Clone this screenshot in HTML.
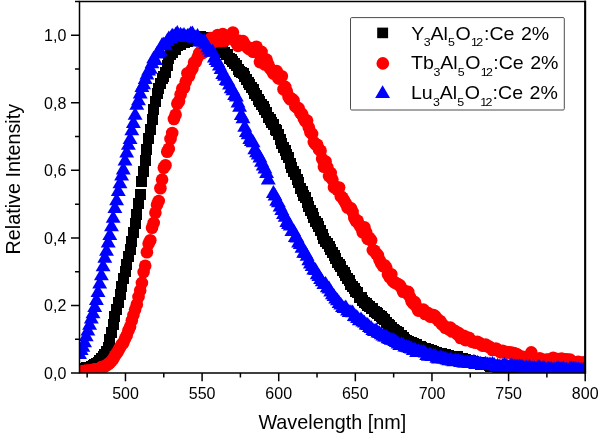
<!DOCTYPE html>
<html lang="en"><head><meta charset="utf-8"><title>Emission spectra</title>
<style>html,body{margin:0;padding:0;background:#fff}svg{display:block}</style></head>
<body>
<svg width="600" height="435" viewBox="0 0 600 435" font-family="'Liberation Sans', Arial, sans-serif" fill="#000">
<rect width="600" height="435" fill="#fff"/>
<defs>
<clipPath id="cp"><rect x="80.0" y="1.5" width="505.20000000000005" height="371.2"/></clipPath>
<rect id="sq" x="-5.5" y="-5.5" width="11" height="11"/>
<circle id="ci" r="6.3"/>
<path id="tr" d="M0-8.5L7.45 4.3H-7.45Z"/>
</defs>
<g clip-path="url(#cp)">
<g fill="#000" shape-rendering="crispEdges">
<use href="#sq" x="79.5" y="368.5"/>
<use href="#sq" x="81.2" y="368.9"/>
<use href="#sq" x="82.9" y="368.4"/>
<use href="#sq" x="84.6" y="368.3"/>
<use href="#sq" x="86.2" y="367.9"/>
<use href="#sq" x="87.9" y="367.4"/>
<use href="#sq" x="89.6" y="367.2"/>
<use href="#sq" x="91.3" y="366.4"/>
<use href="#sq" x="93" y="365.8"/>
<use href="#sq" x="94.7" y="364.4"/>
<use href="#sq" x="96.4" y="363.5"/>
<use href="#sq" x="98" y="362.2"/>
<use href="#sq" x="99.7" y="360.5"/>
<use href="#sq" x="101.4" y="358.8"/>
<use href="#sq" x="103.1" y="356.8"/>
<use href="#sq" x="104.8" y="354.4"/>
<use href="#sq" x="106.5" y="351.3"/>
<use href="#sq" x="108.2" y="347.6"/>
<use href="#sq" x="109.8" y="339.8"/>
<use href="#sq" x="111.5" y="332.2"/>
<use href="#sq" x="113.2" y="324.5"/>
<use href="#sq" x="114.9" y="316.7"/>
<use href="#sq" x="116.6" y="309.5"/>
<use href="#sq" x="118.3" y="302.1"/>
<use href="#sq" x="120" y="294.5"/>
<use href="#sq" x="121.6" y="286.7"/>
<use href="#sq" x="123.3" y="278.7"/>
<use href="#sq" x="125" y="271.8"/>
<use href="#sq" x="126.7" y="264.3"/>
<use href="#sq" x="128.4" y="256.6"/>
<use href="#sq" x="130.1" y="249.9"/>
<use href="#sq" x="131.8" y="241.8"/>
<use href="#sq" x="133.4" y="232.8"/>
<use href="#sq" x="135.1" y="223.7"/>
<use href="#sq" x="136.8" y="214.2"/>
<use href="#sq" x="138.5" y="203.8"/>
<use href="#sq" x="140.2" y="194.3"/>
<use href="#sq" x="141.9" y="181"/>
<use href="#sq" x="143.6" y="171"/>
<use href="#sq" x="145.2" y="160.9"/>
<use href="#sq" x="146.9" y="149.2"/>
<use href="#sq" x="148.6" y="138.8"/>
<use href="#sq" x="150.3" y="129.5"/>
<use href="#sq" x="152" y="119.8"/>
<use href="#sq" x="153.7" y="109.5"/>
<use href="#sq" x="155.4" y="101.6"/>
<use href="#sq" x="157" y="93.8"/>
<use href="#sq" x="158.7" y="88.6"/>
<use href="#sq" x="160.4" y="83.9"/>
<use href="#sq" x="162.1" y="78.9"/>
<use href="#sq" x="163.8" y="76.1"/>
<use href="#sq" x="165.5" y="72.5"/>
<use href="#sq" x="167.2" y="65.6"/>
<use href="#sq" x="168.8" y="58"/>
<use href="#sq" x="170.5" y="54.2"/>
<use href="#sq" x="172.2" y="52"/>
<use href="#sq" x="173.9" y="49.2"/>
<use href="#sq" x="175.6" y="49.2"/>
<use href="#sq" x="177.3" y="45.4"/>
<use href="#sq" x="179" y="44"/>
<use href="#sq" x="180.6" y="44.5"/>
<use href="#sq" x="182.3" y="42.1"/>
<use href="#sq" x="184" y="42.1"/>
<use href="#sq" x="185.7" y="39.9"/>
<use href="#sq" x="187.4" y="41.4"/>
<use href="#sq" x="189.1" y="40"/>
<use href="#sq" x="190.8" y="38.2"/>
<use href="#sq" x="192.4" y="37.4"/>
<use href="#sq" x="194.1" y="39.7"/>
<use href="#sq" x="195.8" y="38.2"/>
<use href="#sq" x="197.5" y="37.2"/>
<use href="#sq" x="199.2" y="37.9"/>
<use href="#sq" x="200.9" y="36"/>
<use href="#sq" x="202.6" y="38.5"/>
<use href="#sq" x="204.2" y="37.6"/>
<use href="#sq" x="205.9" y="39.4"/>
<use href="#sq" x="207.6" y="37.9"/>
<use href="#sq" x="209.3" y="39.8"/>
<use href="#sq" x="211" y="40.9"/>
<use href="#sq" x="212.7" y="42.9"/>
<use href="#sq" x="214.4" y="41.2"/>
<use href="#sq" x="216" y="43.1"/>
<use href="#sq" x="217.7" y="44.3"/>
<use href="#sq" x="219.4" y="45.4"/>
<use href="#sq" x="221.1" y="47.6"/>
<use href="#sq" x="222.8" y="50.1"/>
<use href="#sq" x="224.5" y="52.1"/>
<use href="#sq" x="226.2" y="54"/>
<use href="#sq" x="227.8" y="54.1"/>
<use href="#sq" x="229.5" y="58.3"/>
<use href="#sq" x="231.2" y="59.7"/>
<use href="#sq" x="232.9" y="61.6"/>
<use href="#sq" x="234.6" y="63.3"/>
<use href="#sq" x="236.3" y="65.3"/>
<use href="#sq" x="238" y="69"/>
<use href="#sq" x="239.6" y="71.7"/>
<use href="#sq" x="241.3" y="72.6"/>
<use href="#sq" x="243" y="73.9"/>
<use href="#sq" x="244.7" y="76.6"/>
<use href="#sq" x="246.4" y="79.5"/>
<use href="#sq" x="248.1" y="82.4"/>
<use href="#sq" x="249.8" y="84.4"/>
<use href="#sq" x="251.4" y="87.6"/>
<use href="#sq" x="253.1" y="89.5"/>
<use href="#sq" x="254.8" y="93.7"/>
<use href="#sq" x="256.5" y="95.9"/>
<use href="#sq" x="258.2" y="99.1"/>
<use href="#sq" x="259.9" y="101.6"/>
<use href="#sq" x="261.6" y="104.8"/>
<use href="#sq" x="263.2" y="106.4"/>
<use href="#sq" x="264.9" y="109.5"/>
<use href="#sq" x="266.6" y="112.4"/>
<use href="#sq" x="268.3" y="117.9"/>
<use href="#sq" x="270" y="119.6"/>
<use href="#sq" x="271.7" y="122.7"/>
<use href="#sq" x="273.4" y="124.9"/>
<use href="#sq" x="275" y="129.8"/>
<use href="#sq" x="276.7" y="130.8"/>
<use href="#sq" x="278.4" y="134.2"/>
<use href="#sq" x="280.1" y="139.5"/>
<use href="#sq" x="281.8" y="143.1"/>
<use href="#sq" x="283.5" y="147"/>
<use href="#sq" x="285.2" y="150.6"/>
<use href="#sq" x="286.8" y="154.5"/>
<use href="#sq" x="288.5" y="157.9"/>
<use href="#sq" x="290.2" y="163.8"/>
<use href="#sq" x="291.9" y="167.2"/>
<use href="#sq" x="293.6" y="171.7"/>
<use href="#sq" x="295.3" y="174.5"/>
<use href="#sq" x="297" y="179.2"/>
<use href="#sq" x="298.6" y="182.6"/>
<use href="#sq" x="300.3" y="188.2"/>
<use href="#sq" x="302" y="191.4"/>
<use href="#sq" x="303.7" y="195.6"/>
<use href="#sq" x="305.4" y="197.8"/>
<use href="#sq" x="307.1" y="202"/>
<use href="#sq" x="308.8" y="206.3"/>
<use href="#sq" x="310.4" y="210.1"/>
<use href="#sq" x="312.1" y="213"/>
<use href="#sq" x="313.8" y="217.4"/>
<use href="#sq" x="315.5" y="221.1"/>
<use href="#sq" x="317.2" y="223.6"/>
<use href="#sq" x="318.9" y="226.2"/>
<use href="#sq" x="320.6" y="230.9"/>
<use href="#sq" x="322.2" y="234.5"/>
<use href="#sq" x="323.9" y="238.1"/>
<use href="#sq" x="325.6" y="241.3"/>
<use href="#sq" x="327.3" y="243.3"/>
<use href="#sq" x="329" y="246.1"/>
<use href="#sq" x="330.7" y="249.6"/>
<use href="#sq" x="332.4" y="252.3"/>
<use href="#sq" x="334" y="255.4"/>
<use href="#sq" x="335.7" y="258.2"/>
<use href="#sq" x="337.4" y="262.1"/>
<use href="#sq" x="339.1" y="264.3"/>
<use href="#sq" x="340.8" y="266.7"/>
<use href="#sq" x="342.5" y="270.1"/>
<use href="#sq" x="344.1" y="272.7"/>
<use href="#sq" x="345.8" y="275.8"/>
<use href="#sq" x="347.5" y="278.4"/>
<use href="#sq" x="349.2" y="280.5"/>
<use href="#sq" x="350.9" y="284.1"/>
<use href="#sq" x="352.6" y="286.6"/>
<use href="#sq" x="354.3" y="288.6"/>
<use href="#sq" x="355.9" y="291.1"/>
<use href="#sq" x="357.6" y="292.8"/>
<use href="#sq" x="359.3" y="297.1"/>
<use href="#sq" x="361" y="297.7"/>
<use href="#sq" x="362.7" y="300.5"/>
<use href="#sq" x="364.4" y="302.1"/>
<use href="#sq" x="366.1" y="303.6"/>
<use href="#sq" x="367.7" y="305.1"/>
<use href="#sq" x="369.4" y="306.6"/>
<use href="#sq" x="371.1" y="308.3"/>
<use href="#sq" x="372.8" y="308.7"/>
<use href="#sq" x="374.5" y="311"/>
<use href="#sq" x="376.2" y="312.3"/>
<use href="#sq" x="377.9" y="313.3"/>
<use href="#sq" x="379.5" y="315.7"/>
<use href="#sq" x="381.2" y="316"/>
<use href="#sq" x="382.9" y="318.3"/>
<use href="#sq" x="384.6" y="319.5"/>
<use href="#sq" x="386.3" y="322.4"/>
<use href="#sq" x="388" y="324.3"/>
<use href="#sq" x="389.7" y="325.7"/>
<use href="#sq" x="391.3" y="327"/>
<use href="#sq" x="393" y="329.2"/>
<use href="#sq" x="394.7" y="330.1"/>
<use href="#sq" x="396.4" y="331.8"/>
<use href="#sq" x="398.1" y="332.3"/>
<use href="#sq" x="399.8" y="335"/>
<use href="#sq" x="401.5" y="335.4"/>
<use href="#sq" x="403.1" y="337.7"/>
<use href="#sq" x="404.8" y="339.2"/>
<use href="#sq" x="406.5" y="340.2"/>
<use href="#sq" x="408.2" y="341.6"/>
<use href="#sq" x="409.9" y="342"/>
<use href="#sq" x="411.6" y="342.5"/>
<use href="#sq" x="413.3" y="343.8"/>
<use href="#sq" x="414.9" y="344.4"/>
<use href="#sq" x="416.6" y="344.7"/>
<use href="#sq" x="418.3" y="346.1"/>
<use href="#sq" x="420" y="346.9"/>
<use href="#sq" x="421.7" y="347.8"/>
<use href="#sq" x="423.4" y="349.2"/>
<use href="#sq" x="425.1" y="348.5"/>
<use href="#sq" x="426.7" y="350.5"/>
<use href="#sq" x="428.4" y="349.8"/>
<use href="#sq" x="430.1" y="350.7"/>
<use href="#sq" x="431.8" y="350.6"/>
<use href="#sq" x="433.5" y="351.7"/>
<use href="#sq" x="435.2" y="352.6"/>
<use href="#sq" x="436.9" y="352.4"/>
<use href="#sq" x="438.5" y="353.3"/>
<use href="#sq" x="440.2" y="353.5"/>
<use href="#sq" x="441.9" y="353.8"/>
<use href="#sq" x="443.6" y="354.3"/>
<use href="#sq" x="445.3" y="354.7"/>
<use href="#sq" x="447" y="355.4"/>
<use href="#sq" x="448.7" y="355.5"/>
<use href="#sq" x="450.3" y="356.7"/>
<use href="#sq" x="452" y="356.2"/>
<use href="#sq" x="453.7" y="357.2"/>
<use href="#sq" x="455.4" y="356.4"/>
<use href="#sq" x="457.1" y="356.7"/>
<use href="#sq" x="458.8" y="358.7"/>
<use href="#sq" x="460.5" y="358.1"/>
<use href="#sq" x="462.1" y="358.6"/>
<use href="#sq" x="463.8" y="359.5"/>
<use href="#sq" x="465.5" y="359"/>
<use href="#sq" x="467.2" y="360"/>
<use href="#sq" x="468.9" y="361.1"/>
<use href="#sq" x="470.6" y="360.7"/>
<use href="#sq" x="472.3" y="361.1"/>
<use href="#sq" x="473.9" y="361.5"/>
<use href="#sq" x="475.6" y="362.7"/>
<use href="#sq" x="477.3" y="362.2"/>
<use href="#sq" x="479" y="362.6"/>
<use href="#sq" x="480.7" y="364"/>
<use href="#sq" x="482.4" y="364.2"/>
<use href="#sq" x="484.1" y="364.2"/>
<use href="#sq" x="485.7" y="364.9"/>
<use href="#sq" x="487.4" y="364.1"/>
<use href="#sq" x="489.1" y="365.2"/>
<use href="#sq" x="490.8" y="366.2"/>
<use href="#sq" x="492.5" y="366.5"/>
<use href="#sq" x="494.2" y="366.4"/>
<use href="#sq" x="495.9" y="365.8"/>
<use href="#sq" x="497.5" y="367.2"/>
<use href="#sq" x="499.2" y="367.3"/>
<use href="#sq" x="500.9" y="367.4"/>
<use href="#sq" x="502.6" y="367.9"/>
<use href="#sq" x="504.3" y="367.2"/>
<use href="#sq" x="506" y="368.6"/>
<use href="#sq" x="507.7" y="368.1"/>
<use href="#sq" x="509.3" y="368.6"/>
<use href="#sq" x="511" y="368.5"/>
<use href="#sq" x="512.7" y="369.5"/>
<use href="#sq" x="514.4" y="368.2"/>
<use href="#sq" x="516.1" y="369.2"/>
<use href="#sq" x="517.8" y="369.3"/>
<use href="#sq" x="519.5" y="369.9"/>
<use href="#sq" x="521.1" y="369.9"/>
<use href="#sq" x="522.8" y="369.3"/>
<use href="#sq" x="524.5" y="369.2"/>
<use href="#sq" x="526.2" y="369.4"/>
<use href="#sq" x="527.9" y="369.3"/>
<use href="#sq" x="529.6" y="369.6"/>
<use href="#sq" x="531.3" y="370"/>
<use href="#sq" x="532.9" y="369.7"/>
<use href="#sq" x="534.6" y="369.9"/>
<use href="#sq" x="536.3" y="370.3"/>
<use href="#sq" x="538" y="369.9"/>
<use href="#sq" x="539.7" y="369.7"/>
<use href="#sq" x="541.4" y="370.3"/>
<use href="#sq" x="543.1" y="370.7"/>
<use href="#sq" x="544.7" y="370.2"/>
<use href="#sq" x="546.4" y="369.7"/>
<use href="#sq" x="548.1" y="370.8"/>
<use href="#sq" x="549.8" y="370.8"/>
<use href="#sq" x="551.5" y="370.9"/>
<use href="#sq" x="553.2" y="370.2"/>
<use href="#sq" x="554.9" y="371.8"/>
<use href="#sq" x="556.5" y="370.8"/>
<use href="#sq" x="558.2" y="370.4"/>
<use href="#sq" x="559.9" y="371.5"/>
<use href="#sq" x="561.6" y="370.4"/>
<use href="#sq" x="563.3" y="370.9"/>
<use href="#sq" x="565" y="371.5"/>
<use href="#sq" x="566.7" y="371.2"/>
<use href="#sq" x="568.3" y="372.1"/>
<use href="#sq" x="570" y="371.6"/>
<use href="#sq" x="571.7" y="370.5"/>
<use href="#sq" x="573.4" y="371.9"/>
<use href="#sq" x="575.1" y="370.5"/>
<use href="#sq" x="576.8" y="371.5"/>
<use href="#sq" x="578.5" y="371"/>
<use href="#sq" x="580.1" y="371.5"/>
<use href="#sq" x="581.8" y="372.6"/>
<use href="#sq" x="583.5" y="371.9"/>
<use href="#sq" x="585.2" y="371.6"/>
</g>
<g fill="#f00">
<use href="#ci" x="79.5" y="371.5"/>
<use href="#ci" x="81.2" y="371.6"/>
<use href="#ci" x="82.9" y="371.3"/>
<use href="#ci" x="84.6" y="371"/>
<use href="#ci" x="86.2" y="370.6"/>
<use href="#ci" x="87.9" y="370.7"/>
<use href="#ci" x="89.6" y="370.6"/>
<use href="#ci" x="91.3" y="370.4"/>
<use href="#ci" x="93" y="369.7"/>
<use href="#ci" x="94.7" y="369.2"/>
<use href="#ci" x="96.4" y="369.2"/>
<use href="#ci" x="98" y="369.1"/>
<use href="#ci" x="99.7" y="368.5"/>
<use href="#ci" x="101.4" y="367.1"/>
<use href="#ci" x="103.1" y="366.8"/>
<use href="#ci" x="104.8" y="366.6"/>
<use href="#ci" x="106.5" y="365.1"/>
<use href="#ci" x="108.2" y="364.4"/>
<use href="#ci" x="109.8" y="362.8"/>
<use href="#ci" x="111.5" y="361.1"/>
<use href="#ci" x="113.2" y="359"/>
<use href="#ci" x="114.9" y="355.7"/>
<use href="#ci" x="116.6" y="353.2"/>
<use href="#ci" x="118.3" y="350.8"/>
<use href="#ci" x="120" y="347.5"/>
<use href="#ci" x="121.6" y="344.5"/>
<use href="#ci" x="123.3" y="343"/>
<use href="#ci" x="125" y="338.7"/>
<use href="#ci" x="126.7" y="335.4"/>
<use href="#ci" x="128.4" y="330.5"/>
<use href="#ci" x="130.1" y="326.8"/>
<use href="#ci" x="131.8" y="320.5"/>
<use href="#ci" x="133.4" y="315.1"/>
<use href="#ci" x="135.1" y="309.6"/>
<use href="#ci" x="136.8" y="304.5"/>
<use href="#ci" x="138.5" y="296.9"/>
<use href="#ci" x="140.2" y="290.4"/>
<use href="#ci" x="141.9" y="282.9"/>
<use href="#ci" x="143.6" y="272.1"/>
<use href="#ci" x="145.2" y="265.7"/>
<use href="#ci" x="146.9" y="252.2"/>
<use href="#ci" x="148.6" y="243.7"/>
<use href="#ci" x="150.3" y="240.3"/>
<use href="#ci" x="152" y="227.7"/>
<use href="#ci" x="153.7" y="223"/>
<use href="#ci" x="155.4" y="212.8"/>
<use href="#ci" x="157" y="204.8"/>
<use href="#ci" x="158.7" y="201"/>
<use href="#ci" x="160.4" y="188.3"/>
<use href="#ci" x="162.1" y="179.6"/>
<use href="#ci" x="163.8" y="167.8"/>
<use href="#ci" x="165.5" y="165.2"/>
<use href="#ci" x="167.2" y="151.7"/>
<use href="#ci" x="168.8" y="148.8"/>
<use href="#ci" x="170.5" y="138.9"/>
<use href="#ci" x="172.2" y="133"/>
<use href="#ci" x="173.9" y="119"/>
<use href="#ci" x="175.6" y="114.7"/>
<use href="#ci" x="177.3" y="103.8"/>
<use href="#ci" x="179" y="101.3"/>
<use href="#ci" x="180.6" y="94.5"/>
<use href="#ci" x="182.3" y="88.5"/>
<use href="#ci" x="184" y="87.9"/>
<use href="#ci" x="185.7" y="81.7"/>
<use href="#ci" x="187.4" y="73.3"/>
<use href="#ci" x="189.1" y="76.1"/>
<use href="#ci" x="190.8" y="71.1"/>
<use href="#ci" x="192.4" y="68.5"/>
<use href="#ci" x="194.1" y="62.5"/>
<use href="#ci" x="195.8" y="61.9"/>
<use href="#ci" x="197.5" y="57.6"/>
<use href="#ci" x="199.2" y="53.3"/>
<use href="#ci" x="200.9" y="51.5"/>
<use href="#ci" x="202.6" y="53"/>
<use href="#ci" x="204.2" y="44.8"/>
<use href="#ci" x="205.9" y="51.1"/>
<use href="#ci" x="207.6" y="49.3"/>
<use href="#ci" x="209.3" y="48.2"/>
<use href="#ci" x="211" y="38.1"/>
<use href="#ci" x="212.7" y="40.8"/>
<use href="#ci" x="214.4" y="41.3"/>
<use href="#ci" x="216" y="41.2"/>
<use href="#ci" x="217.7" y="35"/>
<use href="#ci" x="219.4" y="40.2"/>
<use href="#ci" x="221.1" y="41"/>
<use href="#ci" x="222.8" y="34"/>
<use href="#ci" x="224.5" y="40.8"/>
<use href="#ci" x="226.2" y="37.7"/>
<use href="#ci" x="227.8" y="36.6"/>
<use href="#ci" x="229.5" y="38.4"/>
<use href="#ci" x="231.2" y="37.3"/>
<use href="#ci" x="232.9" y="32.5"/>
<use href="#ci" x="234.6" y="39.8"/>
<use href="#ci" x="236.3" y="43.1"/>
<use href="#ci" x="238" y="45.9"/>
<use href="#ci" x="239.6" y="40.7"/>
<use href="#ci" x="241.3" y="42.3"/>
<use href="#ci" x="243" y="41.1"/>
<use href="#ci" x="244.7" y="44.8"/>
<use href="#ci" x="246.4" y="46.1"/>
<use href="#ci" x="248.1" y="48.4"/>
<use href="#ci" x="249.8" y="49.2"/>
<use href="#ci" x="251.4" y="48.3"/>
<use href="#ci" x="253.1" y="51.8"/>
<use href="#ci" x="254.8" y="51.7"/>
<use href="#ci" x="256.5" y="46.8"/>
<use href="#ci" x="258.2" y="53.4"/>
<use href="#ci" x="259.9" y="62.1"/>
<use href="#ci" x="261.6" y="51.9"/>
<use href="#ci" x="263.2" y="58.4"/>
<use href="#ci" x="264.9" y="64.5"/>
<use href="#ci" x="266.6" y="59.6"/>
<use href="#ci" x="268.3" y="64.4"/>
<use href="#ci" x="270" y="68.4"/>
<use href="#ci" x="271.7" y="70.3"/>
<use href="#ci" x="273.4" y="73.6"/>
<use href="#ci" x="275" y="72.2"/>
<use href="#ci" x="276.7" y="71.1"/>
<use href="#ci" x="278.4" y="78.4"/>
<use href="#ci" x="280.1" y="78.5"/>
<use href="#ci" x="281.8" y="76.3"/>
<use href="#ci" x="283.5" y="89.2"/>
<use href="#ci" x="285.2" y="86.9"/>
<use href="#ci" x="286.8" y="91.5"/>
<use href="#ci" x="288.5" y="96.7"/>
<use href="#ci" x="290.2" y="99.3"/>
<use href="#ci" x="291.9" y="98.9"/>
<use href="#ci" x="293.6" y="100.4"/>
<use href="#ci" x="295.3" y="106.4"/>
<use href="#ci" x="297" y="107.5"/>
<use href="#ci" x="298.6" y="108.3"/>
<use href="#ci" x="300.3" y="112.7"/>
<use href="#ci" x="302" y="114"/>
<use href="#ci" x="303.7" y="118.3"/>
<use href="#ci" x="305.4" y="121.4"/>
<use href="#ci" x="307.1" y="120.6"/>
<use href="#ci" x="308.8" y="127.4"/>
<use href="#ci" x="310.4" y="132.2"/>
<use href="#ci" x="312.1" y="133.9"/>
<use href="#ci" x="313.8" y="142.1"/>
<use href="#ci" x="315.5" y="144.2"/>
<use href="#ci" x="317.2" y="144.8"/>
<use href="#ci" x="318.9" y="149.3"/>
<use href="#ci" x="320.6" y="150.8"/>
<use href="#ci" x="322.2" y="159"/>
<use href="#ci" x="323.9" y="166.8"/>
<use href="#ci" x="325.6" y="161.5"/>
<use href="#ci" x="327.3" y="167.2"/>
<use href="#ci" x="329" y="176.1"/>
<use href="#ci" x="330.7" y="173"/>
<use href="#ci" x="332.4" y="179.6"/>
<use href="#ci" x="334" y="187.3"/>
<use href="#ci" x="335.7" y="186.7"/>
<use href="#ci" x="337.4" y="189.8"/>
<use href="#ci" x="339.1" y="187.5"/>
<use href="#ci" x="340.8" y="196.2"/>
<use href="#ci" x="342.5" y="197.7"/>
<use href="#ci" x="344.1" y="200.5"/>
<use href="#ci" x="345.8" y="203.5"/>
<use href="#ci" x="347.5" y="207.5"/>
<use href="#ci" x="349.2" y="207.6"/>
<use href="#ci" x="350.9" y="208.3"/>
<use href="#ci" x="352.6" y="211.9"/>
<use href="#ci" x="354.3" y="218"/>
<use href="#ci" x="355.9" y="221"/>
<use href="#ci" x="357.6" y="220.7"/>
<use href="#ci" x="359.3" y="225.1"/>
<use href="#ci" x="361" y="227.5"/>
<use href="#ci" x="362.7" y="232.3"/>
<use href="#ci" x="364.4" y="227.3"/>
<use href="#ci" x="366.1" y="232.1"/>
<use href="#ci" x="367.7" y="238.9"/>
<use href="#ci" x="369.4" y="237.9"/>
<use href="#ci" x="371.1" y="240.2"/>
<use href="#ci" x="372.8" y="250.1"/>
<use href="#ci" x="374.5" y="250.7"/>
<use href="#ci" x="376.2" y="253.8"/>
<use href="#ci" x="377.9" y="255.2"/>
<use href="#ci" x="379.5" y="260"/>
<use href="#ci" x="381.2" y="263.4"/>
<use href="#ci" x="382.9" y="266.1"/>
<use href="#ci" x="384.6" y="265.2"/>
<use href="#ci" x="386.3" y="267.6"/>
<use href="#ci" x="388" y="274.3"/>
<use href="#ci" x="389.7" y="277.2"/>
<use href="#ci" x="391.3" y="274.2"/>
<use href="#ci" x="393" y="281.3"/>
<use href="#ci" x="394.7" y="282.5"/>
<use href="#ci" x="396.4" y="283.3"/>
<use href="#ci" x="398.1" y="284.3"/>
<use href="#ci" x="399.8" y="285.2"/>
<use href="#ci" x="401.5" y="288.1"/>
<use href="#ci" x="403.1" y="291.8"/>
<use href="#ci" x="404.8" y="291.1"/>
<use href="#ci" x="406.5" y="293"/>
<use href="#ci" x="408.2" y="291.9"/>
<use href="#ci" x="409.9" y="296.9"/>
<use href="#ci" x="411.6" y="301.3"/>
<use href="#ci" x="413.3" y="303.5"/>
<use href="#ci" x="414.9" y="302.1"/>
<use href="#ci" x="416.6" y="307"/>
<use href="#ci" x="418.3" y="310.6"/>
<use href="#ci" x="420" y="310"/>
<use href="#ci" x="421.7" y="310.3"/>
<use href="#ci" x="423.4" y="309.6"/>
<use href="#ci" x="425.1" y="314"/>
<use href="#ci" x="426.7" y="312.5"/>
<use href="#ci" x="428.4" y="313.3"/>
<use href="#ci" x="430.1" y="316.5"/>
<use href="#ci" x="431.8" y="316.8"/>
<use href="#ci" x="433.5" y="315"/>
<use href="#ci" x="435.2" y="316.2"/>
<use href="#ci" x="436.9" y="318.7"/>
<use href="#ci" x="438.5" y="320.8"/>
<use href="#ci" x="440.2" y="321"/>
<use href="#ci" x="441.9" y="324.2"/>
<use href="#ci" x="443.6" y="325.4"/>
<use href="#ci" x="445.3" y="327.8"/>
<use href="#ci" x="447" y="327.9"/>
<use href="#ci" x="448.7" y="329.2"/>
<use href="#ci" x="450.3" y="327.6"/>
<use href="#ci" x="452" y="331.5"/>
<use href="#ci" x="453.7" y="330.4"/>
<use href="#ci" x="455.4" y="331.3"/>
<use href="#ci" x="457.1" y="334.1"/>
<use href="#ci" x="458.8" y="333.1"/>
<use href="#ci" x="460.5" y="338"/>
<use href="#ci" x="462.1" y="336.1"/>
<use href="#ci" x="463.8" y="335.8"/>
<use href="#ci" x="465.5" y="340.1"/>
<use href="#ci" x="467.2" y="339.9"/>
<use href="#ci" x="468.9" y="337.7"/>
<use href="#ci" x="470.6" y="340.1"/>
<use href="#ci" x="472.3" y="341.9"/>
<use href="#ci" x="473.9" y="341.7"/>
<use href="#ci" x="475.6" y="342.7"/>
<use href="#ci" x="477.3" y="341.8"/>
<use href="#ci" x="479" y="342.8"/>
<use href="#ci" x="480.7" y="344.4"/>
<use href="#ci" x="482.4" y="345.6"/>
<use href="#ci" x="484.1" y="345.5"/>
<use href="#ci" x="485.7" y="344.5"/>
<use href="#ci" x="487.4" y="346.3"/>
<use href="#ci" x="489.1" y="346.5"/>
<use href="#ci" x="490.8" y="348.1"/>
<use href="#ci" x="492.5" y="350"/>
<use href="#ci" x="494.2" y="349.7"/>
<use href="#ci" x="495.9" y="348.5"/>
<use href="#ci" x="497.5" y="349.6"/>
<use href="#ci" x="499.2" y="351.2"/>
<use href="#ci" x="500.9" y="352.4"/>
<use href="#ci" x="502.6" y="350.7"/>
<use href="#ci" x="504.3" y="351.7"/>
<use href="#ci" x="506" y="352.1"/>
<use href="#ci" x="507.7" y="352.5"/>
<use href="#ci" x="509.3" y="352.3"/>
<use href="#ci" x="511" y="352.9"/>
<use href="#ci" x="512.7" y="352.8"/>
<use href="#ci" x="514.4" y="353.5"/>
<use href="#ci" x="516.1" y="353.7"/>
<use href="#ci" x="517.8" y="354.9"/>
<use href="#ci" x="519.5" y="356.8"/>
<use href="#ci" x="521.1" y="356.9"/>
<use href="#ci" x="522.8" y="356.7"/>
<use href="#ci" x="524.5" y="358"/>
<use href="#ci" x="526.2" y="357.5"/>
<use href="#ci" x="527.9" y="357.2"/>
<use href="#ci" x="529.6" y="359.8"/>
<use href="#ci" x="531.3" y="352.4"/>
<use href="#ci" x="532.9" y="358.2"/>
<use href="#ci" x="534.6" y="359.8"/>
<use href="#ci" x="536.3" y="359.2"/>
<use href="#ci" x="538" y="361.6"/>
<use href="#ci" x="539.7" y="358.2"/>
<use href="#ci" x="541.4" y="359.3"/>
<use href="#ci" x="543.1" y="360.2"/>
<use href="#ci" x="544.7" y="360.3"/>
<use href="#ci" x="546.4" y="359.6"/>
<use href="#ci" x="548.1" y="359.8"/>
<use href="#ci" x="549.8" y="359.7"/>
<use href="#ci" x="551.5" y="360.5"/>
<use href="#ci" x="553.2" y="357.8"/>
<use href="#ci" x="554.9" y="359.2"/>
<use href="#ci" x="556.5" y="359.1"/>
<use href="#ci" x="558.2" y="359"/>
<use href="#ci" x="559.9" y="361.3"/>
<use href="#ci" x="561.6" y="358.6"/>
<use href="#ci" x="563.3" y="359.5"/>
<use href="#ci" x="565" y="359.5"/>
<use href="#ci" x="566.7" y="359.3"/>
<use href="#ci" x="568.3" y="361"/>
<use href="#ci" x="570" y="359.5"/>
<use href="#ci" x="571.7" y="361.8"/>
<use href="#ci" x="573.4" y="362.6"/>
<use href="#ci" x="575.1" y="362.9"/>
<use href="#ci" x="576.8" y="362.1"/>
<use href="#ci" x="578.5" y="361.8"/>
<use href="#ci" x="580.1" y="363.5"/>
<use href="#ci" x="581.8" y="364.8"/>
<use href="#ci" x="583.5" y="362.2"/>
<use href="#ci" x="585.2" y="364.7"/>
</g>
<g fill="#00f">
<use href="#tr" x="79.5" y="354.8"/>
<use href="#tr" x="81.2" y="350.6"/>
<use href="#tr" x="82.9" y="347.4"/>
<use href="#tr" x="84.6" y="343"/>
<use href="#tr" x="86.2" y="336.9"/>
<use href="#tr" x="87.9" y="331.3"/>
<use href="#tr" x="89.6" y="325.4"/>
<use href="#tr" x="91.3" y="319.3"/>
<use href="#tr" x="93" y="314"/>
<use href="#tr" x="94.7" y="307.8"/>
<use href="#tr" x="96.4" y="300.6"/>
<use href="#tr" x="98" y="292.8"/>
<use href="#tr" x="99.7" y="284.3"/>
<use href="#tr" x="101.4" y="275.9"/>
<use href="#tr" x="103.1" y="266.9"/>
<use href="#tr" x="104.8" y="258.4"/>
<use href="#tr" x="106.5" y="251.5"/>
<use href="#tr" x="108.2" y="243.1"/>
<use href="#tr" x="109.8" y="235.7"/>
<use href="#tr" x="111.5" y="226.9"/>
<use href="#tr" x="113.2" y="218.5"/>
<use href="#tr" x="114.9" y="208.7"/>
<use href="#tr" x="116.6" y="201"/>
<use href="#tr" x="118.3" y="191.7"/>
<use href="#tr" x="120" y="183.9"/>
<use href="#tr" x="121.6" y="176.3"/>
<use href="#tr" x="123.3" y="170.1"/>
<use href="#tr" x="125" y="161.2"/>
<use href="#tr" x="126.7" y="153.2"/>
<use href="#tr" x="128.4" y="145.5"/>
<use href="#tr" x="130.1" y="139.7"/>
<use href="#tr" x="131.8" y="131"/>
<use href="#tr" x="133.4" y="123.6"/>
<use href="#tr" x="135.1" y="115.4"/>
<use href="#tr" x="136.8" y="105.4"/>
<use href="#tr" x="138.5" y="101"/>
<use href="#tr" x="140.2" y="94.1"/>
<use href="#tr" x="141.9" y="87.6"/>
<use href="#tr" x="143.6" y="85"/>
<use href="#tr" x="145.2" y="79.8"/>
<use href="#tr" x="146.9" y="75.2"/>
<use href="#tr" x="148.6" y="71.1"/>
<use href="#tr" x="150.3" y="69.4"/>
<use href="#tr" x="152" y="64"/>
<use href="#tr" x="153.7" y="58.9"/>
<use href="#tr" x="155.4" y="60.8"/>
<use href="#tr" x="157" y="54.3"/>
<use href="#tr" x="158.7" y="53"/>
<use href="#tr" x="160.4" y="51.9"/>
<use href="#tr" x="162.1" y="45.5"/>
<use href="#tr" x="163.8" y="45"/>
<use href="#tr" x="165.5" y="45.9"/>
<use href="#tr" x="167.2" y="41.6"/>
<use href="#tr" x="168.8" y="38.9"/>
<use href="#tr" x="170.5" y="38.7"/>
<use href="#tr" x="172.2" y="36.3"/>
<use href="#tr" x="173.9" y="37"/>
<use href="#tr" x="175.6" y="35.2"/>
<use href="#tr" x="177.3" y="33.5"/>
<use href="#tr" x="179" y="36.8"/>
<use href="#tr" x="180.6" y="35.3"/>
<use href="#tr" x="182.3" y="36.4"/>
<use href="#tr" x="184" y="35.4"/>
<use href="#tr" x="185.7" y="37.6"/>
<use href="#tr" x="187.4" y="36.6"/>
<use href="#tr" x="189.1" y="36"/>
<use href="#tr" x="190.8" y="34.2"/>
<use href="#tr" x="192.4" y="34"/>
<use href="#tr" x="194.1" y="38.5"/>
<use href="#tr" x="195.8" y="38"/>
<use href="#tr" x="197.5" y="36.5"/>
<use href="#tr" x="199.2" y="42.1"/>
<use href="#tr" x="200.9" y="41.1"/>
<use href="#tr" x="202.6" y="42.2"/>
<use href="#tr" x="204.2" y="41.7"/>
<use href="#tr" x="205.9" y="44.4"/>
<use href="#tr" x="207.6" y="48"/>
<use href="#tr" x="209.3" y="50.3"/>
<use href="#tr" x="211" y="52.5"/>
<use href="#tr" x="212.7" y="52.2"/>
<use href="#tr" x="214.4" y="58.1"/>
<use href="#tr" x="216" y="60.7"/>
<use href="#tr" x="217.7" y="62.6"/>
<use href="#tr" x="219.4" y="66.3"/>
<use href="#tr" x="221.1" y="69.7"/>
<use href="#tr" x="222.8" y="74.7"/>
<use href="#tr" x="224.5" y="76.5"/>
<use href="#tr" x="226.2" y="80.7"/>
<use href="#tr" x="227.8" y="81.4"/>
<use href="#tr" x="229.5" y="85.1"/>
<use href="#tr" x="231.2" y="89"/>
<use href="#tr" x="232.9" y="90.9"/>
<use href="#tr" x="234.6" y="95.7"/>
<use href="#tr" x="236.3" y="97.2"/>
<use href="#tr" x="238" y="103.1"/>
<use href="#tr" x="239.6" y="107.4"/>
<use href="#tr" x="241.3" y="115.7"/>
<use href="#tr" x="243" y="119"/>
<use href="#tr" x="244.7" y="127.4"/>
<use href="#tr" x="246.4" y="132.8"/>
<use href="#tr" x="248.1" y="134.9"/>
<use href="#tr" x="249.8" y="139.6"/>
<use href="#tr" x="251.4" y="141.8"/>
<use href="#tr" x="253.1" y="142.9"/>
<use href="#tr" x="254.8" y="149.9"/>
<use href="#tr" x="256.5" y="152.9"/>
<use href="#tr" x="258.2" y="155.1"/>
<use href="#tr" x="259.9" y="158.1"/>
<use href="#tr" x="261.6" y="162.4"/>
<use href="#tr" x="263.2" y="166.2"/>
<use href="#tr" x="264.9" y="169.1"/>
<use href="#tr" x="266.6" y="173.7"/>
<use href="#tr" x="268.3" y="180.1"/>
<use href="#tr" x="273.4" y="193.6"/>
<use href="#tr" x="275" y="196.2"/>
<use href="#tr" x="276.7" y="201.4"/>
<use href="#tr" x="278.4" y="202.9"/>
<use href="#tr" x="280.1" y="207.3"/>
<use href="#tr" x="281.8" y="210.8"/>
<use href="#tr" x="283.5" y="214.8"/>
<use href="#tr" x="285.2" y="217.4"/>
<use href="#tr" x="286.8" y="222.6"/>
<use href="#tr" x="288.5" y="224.8"/>
<use href="#tr" x="290.2" y="226.2"/>
<use href="#tr" x="291.9" y="231.7"/>
<use href="#tr" x="293.6" y="231.8"/>
<use href="#tr" x="295.3" y="237.8"/>
<use href="#tr" x="297" y="238.2"/>
<use href="#tr" x="298.6" y="243.1"/>
<use href="#tr" x="300.3" y="244.6"/>
<use href="#tr" x="302" y="248.5"/>
<use href="#tr" x="303.7" y="253.4"/>
<use href="#tr" x="305.4" y="253.6"/>
<use href="#tr" x="307.1" y="256.5"/>
<use href="#tr" x="308.8" y="261"/>
<use href="#tr" x="310.4" y="264.1"/>
<use href="#tr" x="312.1" y="266.8"/>
<use href="#tr" x="313.8" y="270.3"/>
<use href="#tr" x="315.5" y="270.8"/>
<use href="#tr" x="317.2" y="274.9"/>
<use href="#tr" x="318.9" y="276.8"/>
<use href="#tr" x="320.6" y="279.8"/>
<use href="#tr" x="322.2" y="281.9"/>
<use href="#tr" x="323.9" y="284.7"/>
<use href="#tr" x="325.6" y="284.5"/>
<use href="#tr" x="327.3" y="288"/>
<use href="#tr" x="329" y="289.1"/>
<use href="#tr" x="330.7" y="292.1"/>
<use href="#tr" x="332.4" y="294.9"/>
<use href="#tr" x="334" y="296.8"/>
<use href="#tr" x="335.7" y="299.2"/>
<use href="#tr" x="337.4" y="301"/>
<use href="#tr" x="339.1" y="303.6"/>
<use href="#tr" x="340.8" y="305.3"/>
<use href="#tr" x="342.5" y="307.8"/>
<use href="#tr" x="344.1" y="308.8"/>
<use href="#tr" x="345.8" y="308"/>
<use href="#tr" x="347.5" y="311.2"/>
<use href="#tr" x="349.2" y="312.8"/>
<use href="#tr" x="350.9" y="312.8"/>
<use href="#tr" x="352.6" y="313"/>
<use href="#tr" x="354.3" y="316.7"/>
<use href="#tr" x="355.9" y="316.9"/>
<use href="#tr" x="357.6" y="318.6"/>
<use href="#tr" x="359.3" y="320.9"/>
<use href="#tr" x="361" y="320.1"/>
<use href="#tr" x="362.7" y="322.1"/>
<use href="#tr" x="364.4" y="323.3"/>
<use href="#tr" x="366.1" y="325.3"/>
<use href="#tr" x="367.7" y="325.6"/>
<use href="#tr" x="369.4" y="327.7"/>
<use href="#tr" x="371.1" y="328.6"/>
<use href="#tr" x="372.8" y="330.6"/>
<use href="#tr" x="374.5" y="331.8"/>
<use href="#tr" x="376.2" y="330.8"/>
<use href="#tr" x="377.9" y="333.3"/>
<use href="#tr" x="379.5" y="333.7"/>
<use href="#tr" x="381.2" y="335"/>
<use href="#tr" x="382.9" y="336.3"/>
<use href="#tr" x="384.6" y="337.2"/>
<use href="#tr" x="386.3" y="337.3"/>
<use href="#tr" x="388" y="338.9"/>
<use href="#tr" x="389.7" y="339.7"/>
<use href="#tr" x="391.3" y="340.4"/>
<use href="#tr" x="393" y="340.4"/>
<use href="#tr" x="394.7" y="341.6"/>
<use href="#tr" x="396.4" y="342.7"/>
<use href="#tr" x="398.1" y="344.3"/>
<use href="#tr" x="399.8" y="345.7"/>
<use href="#tr" x="401.5" y="344.8"/>
<use href="#tr" x="403.1" y="345.5"/>
<use href="#tr" x="404.8" y="347.2"/>
<use href="#tr" x="406.5" y="347.4"/>
<use href="#tr" x="408.2" y="347.9"/>
<use href="#tr" x="409.9" y="348.6"/>
<use href="#tr" x="411.6" y="349.2"/>
<use href="#tr" x="413.3" y="350.8"/>
<use href="#tr" x="414.9" y="350"/>
<use href="#tr" x="416.6" y="352.6"/>
<use href="#tr" x="418.3" y="351.6"/>
<use href="#tr" x="420" y="352.4"/>
<use href="#tr" x="421.7" y="352.6"/>
<use href="#tr" x="423.4" y="352.4"/>
<use href="#tr" x="425.1" y="353.2"/>
<use href="#tr" x="426.7" y="355.6"/>
<use href="#tr" x="428.4" y="356.4"/>
<use href="#tr" x="430.1" y="355"/>
<use href="#tr" x="431.8" y="356.8"/>
<use href="#tr" x="433.5" y="356.5"/>
<use href="#tr" x="435.2" y="356.3"/>
<use href="#tr" x="436.9" y="358.5"/>
<use href="#tr" x="438.5" y="359.1"/>
<use href="#tr" x="440.2" y="357.9"/>
<use href="#tr" x="441.9" y="358.5"/>
<use href="#tr" x="443.6" y="359.1"/>
<use href="#tr" x="445.3" y="359.2"/>
<use href="#tr" x="447" y="360.2"/>
<use href="#tr" x="448.7" y="361"/>
<use href="#tr" x="450.3" y="360.3"/>
<use href="#tr" x="452" y="361.2"/>
<use href="#tr" x="453.7" y="362"/>
<use href="#tr" x="455.4" y="360.7"/>
<use href="#tr" x="457.1" y="361.4"/>
<use href="#tr" x="458.8" y="361.4"/>
<use href="#tr" x="460.5" y="362.6"/>
<use href="#tr" x="462.1" y="362.6"/>
<use href="#tr" x="463.8" y="363.1"/>
<use href="#tr" x="465.5" y="363.2"/>
<use href="#tr" x="467.2" y="362.7"/>
<use href="#tr" x="468.9" y="363.6"/>
<use href="#tr" x="470.6" y="363"/>
<use href="#tr" x="472.3" y="363.2"/>
<use href="#tr" x="473.9" y="362.3"/>
<use href="#tr" x="475.6" y="364.8"/>
<use href="#tr" x="477.3" y="363.3"/>
<use href="#tr" x="479" y="364.2"/>
<use href="#tr" x="480.7" y="364.2"/>
<use href="#tr" x="482.4" y="365.4"/>
<use href="#tr" x="484.1" y="364.9"/>
<use href="#tr" x="485.7" y="364.2"/>
<use href="#tr" x="487.4" y="364.9"/>
<use href="#tr" x="489.1" y="364.9"/>
<use href="#tr" x="490.8" y="365.3"/>
<use href="#tr" x="492.5" y="364.4"/>
<use href="#tr" x="494.2" y="365.4"/>
<use href="#tr" x="495.9" y="366.9"/>
<use href="#tr" x="497.5" y="366.2"/>
<use href="#tr" x="499.2" y="367.1"/>
<use href="#tr" x="500.9" y="367.3"/>
<use href="#tr" x="502.6" y="366.5"/>
<use href="#tr" x="504.3" y="365.3"/>
<use href="#tr" x="506" y="366.3"/>
<use href="#tr" x="507.7" y="367.3"/>
<use href="#tr" x="509.3" y="367.3"/>
<use href="#tr" x="511" y="366"/>
<use href="#tr" x="512.7" y="366.8"/>
<use href="#tr" x="514.4" y="367"/>
<use href="#tr" x="516.1" y="367.3"/>
<use href="#tr" x="517.8" y="367.3"/>
<use href="#tr" x="519.5" y="367"/>
<use href="#tr" x="521.1" y="367.3"/>
<use href="#tr" x="522.8" y="367.7"/>
<use href="#tr" x="524.5" y="368.7"/>
<use href="#tr" x="526.2" y="367.7"/>
<use href="#tr" x="527.9" y="368.7"/>
<use href="#tr" x="529.6" y="367.6"/>
<use href="#tr" x="531.3" y="369.3"/>
<use href="#tr" x="532.9" y="368.7"/>
<use href="#tr" x="534.6" y="368.7"/>
<use href="#tr" x="536.3" y="369.7"/>
<use href="#tr" x="538" y="367.7"/>
<use href="#tr" x="539.7" y="368"/>
<use href="#tr" x="541.4" y="369.4"/>
<use href="#tr" x="543.1" y="368.6"/>
<use href="#tr" x="544.7" y="368.9"/>
<use href="#tr" x="546.4" y="370.6"/>
<use href="#tr" x="548.1" y="369.1"/>
<use href="#tr" x="549.8" y="369.4"/>
<use href="#tr" x="551.5" y="369.4"/>
<use href="#tr" x="553.2" y="370.2"/>
<use href="#tr" x="554.9" y="369.7"/>
<use href="#tr" x="556.5" y="369.7"/>
<use href="#tr" x="558.2" y="368.8"/>
<use href="#tr" x="559.9" y="369.5"/>
<use href="#tr" x="561.6" y="369.7"/>
<use href="#tr" x="563.3" y="368.7"/>
<use href="#tr" x="565" y="370.2"/>
<use href="#tr" x="566.7" y="370.1"/>
<use href="#tr" x="568.3" y="371.2"/>
<use href="#tr" x="570" y="368.9"/>
<use href="#tr" x="571.7" y="369.3"/>
<use href="#tr" x="573.4" y="369.4"/>
<use href="#tr" x="575.1" y="369.6"/>
<use href="#tr" x="576.8" y="370.1"/>
<use href="#tr" x="578.5" y="370"/>
<use href="#tr" x="580.1" y="370.4"/>
<use href="#tr" x="581.8" y="370.4"/>
<use href="#tr" x="583.5" y="370.2"/>
<use href="#tr" x="585.2" y="369.3"/>
</g>
</g>
<g stroke="#000" stroke-width="1.5" fill="none">
<path d="M79.5 1.5V373.0H585.2V1.5Z"/>
<path d="M585.2 0.75V373.75" stroke-width="2"/>
<path d="M79.5 373.00h-8.5M79.5 339.23h-4.5M79.5 305.45h-8.5M79.5 271.68h-4.5M79.5 237.91h-8.5M79.5 204.14h-4.5M79.5 170.36h-8.5M79.5 136.59h-4.5M79.5 102.82h-8.5M79.5 69.05h-4.5M79.5 35.27h-8.5M79.5 1.50h-4.5M87.16 373.0v4.6M125.47 373.0v8.3M163.78 373.0v4.6M202.09 373.0v8.3M240.40 373.0v4.6M278.72 373.0v8.3M317.03 373.0v4.6M355.34 373.0v8.3M393.65 373.0v4.6M431.96 373.0v8.3M470.27 373.0v4.6M508.58 373.0v8.3M546.89 373.0v4.6M585.20 373.0v8.3"/>
</g>
<g font-size="16">
<text x="66.3" y="378.7" text-anchor="end">0,0</text>
<text x="66.3" y="311.2" text-anchor="end">0,2</text>
<text x="66.3" y="243.6" text-anchor="end">0,4</text>
<text x="66.3" y="176.1" text-anchor="end">0,6</text>
<text x="66.3" y="108.5" text-anchor="end">0,8</text>
<text x="66.3" y="41.0" text-anchor="end">1,0</text>
<text x="125.5" y="398.6" text-anchor="middle">500</text>
<text x="202.1" y="398.6" text-anchor="middle">550</text>
<text x="278.7" y="398.6" text-anchor="middle">600</text>
<text x="355.3" y="398.6" text-anchor="middle">650</text>
<text x="432.0" y="398.6" text-anchor="middle">700</text>
<text x="508.6" y="398.6" text-anchor="middle">750</text>
<text x="585.2" y="398.6" text-anchor="middle">800</text>
</g>
<text x="332.3" y="429.4" font-size="19.8" text-anchor="middle">Wavelength [nm]</text>
<text transform="translate(20 179.2) rotate(-90)" font-size="19.8" text-anchor="middle">Relative Intensity</text>
<rect x="350.5" y="17.6" width="213.8" height="92.4" rx="1.2" fill="#fff" stroke="#4d4d4d" stroke-width="1"/>
<rect x="377.2" y="27.6" width="10.9" height="10.6" fill="#000"/>
<use href="#ci" x="382.8" y="63.4" fill="#f00"/>
<use href="#tr" x="382.6" y="93.7" fill="#00f"/>
<text transform="translate(411.3 39.8) scale(1.07 1)" font-size="18.3" xml:space="preserve"><tspan x="0.00" y="0">Y</tspan><tspan x="11.68" y="6.5" font-size="11.6">3</tspan><tspan x="17.94" y="0">Al</tspan><tspan x="34.30" y="6.5" font-size="11.6">5</tspan><tspan x="41.21" y="0">O</tspan><tspan x="55.79" y="6.5" font-size="11.6" textLength="11.3" lengthAdjust="spacing">12</tspan><tspan x="67.94" y="0">:Ce </tspan><tspan x="102.52" y="0">2%</tspan></text>
<text transform="translate(411.1 69.4) scale(1.07 1)" font-size="18.3" xml:space="preserve"><tspan x="0.00" y="0">Tb</tspan><tspan x="21.03" y="6.5" font-size="11.6">3</tspan><tspan x="27.29" y="0">Al</tspan><tspan x="43.64" y="6.5" font-size="11.6">5</tspan><tspan x="50.56" y="0">O</tspan><tspan x="65.14" y="6.5" font-size="11.6" textLength="11.3" lengthAdjust="spacing">12</tspan><tspan x="76.73" y="0">:Ce </tspan><tspan x="111.31" y="0">2%</tspan></text>
<text transform="translate(410.9 99.3) scale(1.07 1)" font-size="18.3" xml:space="preserve"><tspan x="0.00" y="0">Lu</tspan><tspan x="20.75" y="6.5" font-size="11.6">3</tspan><tspan x="27.01" y="0">Al</tspan><tspan x="43.36" y="6.5" font-size="11.6">5</tspan><tspan x="50.28" y="0">O</tspan><tspan x="64.86" y="6.5" font-size="11.6" textLength="11.3" lengthAdjust="spacing">12</tspan><tspan x="76.36" y="0">:Ce </tspan><tspan x="110.93" y="0">2%</tspan></text>
</svg>
</body></html>
